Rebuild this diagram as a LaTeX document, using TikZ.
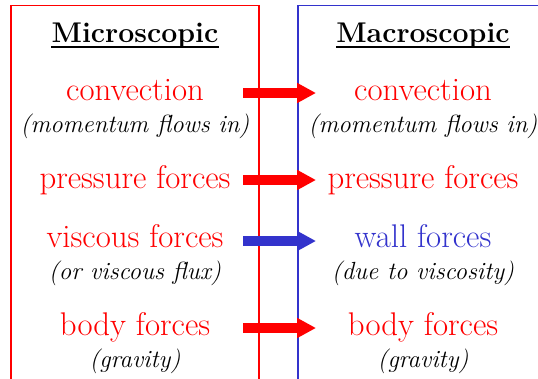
\documentclass[tikz,border=0pt]{standalone}
\usetikzlibrary{arrows.meta}
\definecolor{vblue}{RGB}{51,51,204}
\definecolor{bred}{RGB}{255,0,0}
\begin{document}
\begin{tikzpicture}[x=1pt,y=-1pt,
  hd/.style={anchor=base,inner sep=0pt,font=\fontsize{28.5}{32}\selectfont\bfseries},
  big/.style={anchor=base,inner sep=0pt,text=bred,font=\fontsize{32.8}{36}\selectfont},
  sub/.style={anchor=base,inner sep=0pt,font=\fontsize{24.8}{28}\selectfont\itshape},
  fat/.style={line width=10pt,-{Triangle[length=19pt,width=19pt]}}]
\useasboundingbox (0,0) rectangle (538,378);
\draw[draw=bred,line width=1.2pt] (11,382) -- (11,5.5) -- (259,5.5) -- (259,382);
\draw[draw=vblue,line width=1.2pt] (298,382) -- (298,5.5) -- (542,5.5);
\node[hd] (lhead) at (135,42) {Microscopic};
\node[hd] (rhead) at (423,42) {Macroscopic};
\draw[line width=2pt] ([yshift=-5pt]lhead.base west) -- ([yshift=-5pt]lhead.base east);
\draw[line width=2pt] ([yshift=-5pt]rhead.base west) -- ([yshift=-5pt]rhead.base east);
\node[big] (lconv) at (135,100) {convection};
\node[sub] (lconvs) at (135,132) {(momentum flows in)};
\node[big] (lpres) at (135,188) {pressure forces};
\node[big] (lvisc) at (135,247) {viscous forces};
\node[sub] (lviscs) at (135,279) {(or viscous flux)};
\node[big] (lbody) at (135,335) {body forces};
\node[sub] (lbodys) at (135,367) {(gravity)};
\node[big] (rconv) at (423,100) {convection};
\node[sub] (rconvs) at (423,132) {(momentum flows in)};
\node[big] (rpres) at (423,188) {pressure forces};
\node[big,text=vblue] (rwall) at (423,247) {wall forces};
\node[sub] (rwalls) at (423,279) {(due to viscosity)};
\node[big] (rbody) at (423,335) {body forces};
\node[sub] (rbodys) at (423,367) {(gravity)};
\foreach \i/\y/\c in {1/93/bred,2/180/bred,3/241/vblue,4/328/bred}{
  \coordinate (s\i) at (243,\y);
  \coordinate (e\i) at (316,\y);
  \draw[fat,\c] (s\i) -- (e\i);
}
\end{tikzpicture}
\end{document}
